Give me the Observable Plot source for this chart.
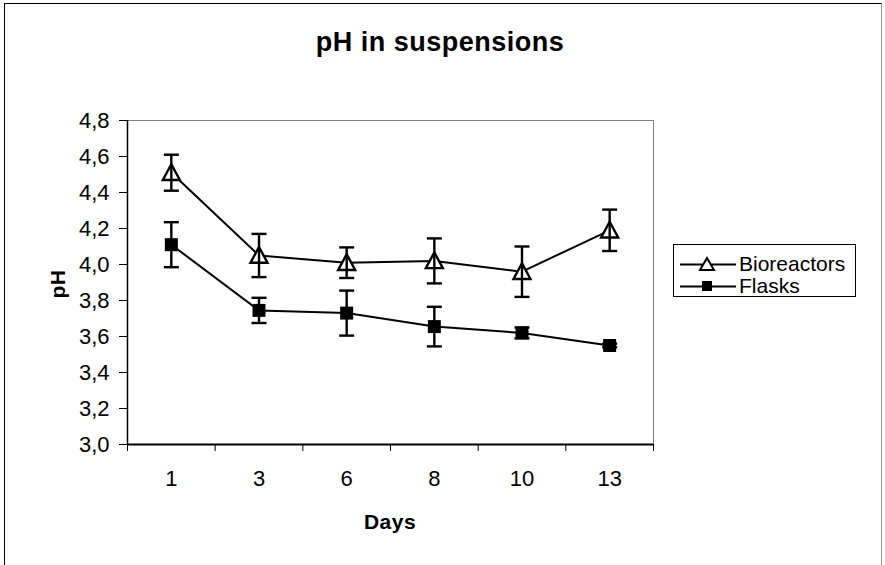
<!DOCTYPE html>
<html>
<head>
<meta charset="utf-8">
<script src="https://cdn.jsdelivr.net/npm/d3@7"></script>
<script src="https://cdn.jsdelivr.net/npm/@observablehq/plot@0.6"></script>
<style>
  html, body { margin: 0; padding: 0; background: #fff; }
  #wrap { position: relative; width: 885px; height: 565px; overflow: hidden; font-family: "Liberation Sans", Arial, sans-serif; color: #000; }
  #border { position: absolute; left: 4px; top: 3px; width: 878px; height: 600px; border: 1px solid #000; border-right-color: #999; box-sizing: border-box; }
  #chart { position: absolute; left: 0; top: 0; }
  .title { position: absolute; left: 440px; top: 42px; transform: translate(-50%, -50%); font-size: 27px; font-weight: bold; letter-spacing: 0.5px; white-space: nowrap; }
  .xlab { position: absolute; left: 390px; top: 522px; transform: translate(-50%, -50%); font-size: 21px; font-weight: bold; letter-spacing: 0.5px; }
  .ylab { position: absolute; left: 58px; top: 284px; transform: translate(-50%, -50%) rotate(-90deg); font-size: 21px; font-weight: bold; letter-spacing: 0.5px; }
  #legend { position: absolute; left: 673px; top: 244px; width: 183px; height: 53px; border: 1px solid #000; box-sizing: border-box; background: #fff; }
  .row { position: absolute; left: 5px; height: 20px; display: flex; align-items: center; font-size: 21px; line-height: 20px; white-space: nowrap; }
  .row svg { margin-right: 2px; }
  .row span { line-height: 20px; display: inline-block; height: 20px; }
</style>
</head>
<body>
<div id="wrap">
  <div id="border"></div>
  <div id="chart"></div>
  <div class="title">pH in suspensions</div>
  <div class="xlab">Days</div>
  <div class="ylab">pH</div>
  <div id="legend"></div>
</div>
<script>
// ---- data ----
const days = ["1", "3", "6", "8", "10", "13"];
const bioreactorsMean = [4.51, 4.05, 4.01, 4.02, 3.96, 4.19];
const bioreactorsErr  = [0.10, 0.12, 0.085, 0.125, 0.14, 0.115];
const flasksMean = [4.11, 3.745, 3.73, 3.655, 3.62, 3.55];
const flasksErr  = [0.125, 0.07, 0.125, 0.11, 0.03, 0.01];
const yTicks = [3.0, 3.2, 3.4, 3.6, 3.8, 4.0, 4.2, 4.4, 4.6, 4.8];
const seriesNames = ["Bioreactors", "Flasks"];

const rows = [];
days.forEach((d, i) => {
  rows.push({series: seriesNames[0], i, day: d, v: bioreactorsMean[i], e: bioreactorsErr[i]});
  rows.push({series: seriesNames[1], i, day: d, v: flasksMean[i], e: flasksErr[i]});
});
const bio = rows.filter(r => r.series === seriesNames[0]);
const fla = rows.filter(r => r.series === seriesNames[1]);
const idx = days.map((d, i) => i);
const bounds = days.map((d, i) => i - 0.5).concat([days.length - 0.5]);

// custom symbols
const capSymbol = { draw(ctx, size) { const r = Math.sqrt(size / Math.PI); ctx.moveTo(-r, 0); ctx.lineTo(r, 0); } };
const triSymbol = { draw(ctx, size) { const r = Math.sqrt(size / Math.PI); ctx.moveTo(0, -r); ctx.lineTo(r, r * 0.85); ctx.lineTo(-r, r * 0.85); ctx.closePath(); } };
const sqSymbol = { draw(ctx, size) { const r = Math.sqrt(size / Math.PI); ctx.rect(-r, -r, 2 * r, 2 * r); } };

const fmt = v => d3.format(".1f")(v).replace(".", ",");

const chart = Plot.plot({
  width: 885,
  height: 565,
  marginLeft: 127,
  marginRight: 232,
  marginTop: 120,
  marginBottom: 121,
  style: { fontFamily: "'Liberation Sans', Arial, sans-serif", background: "transparent", color: "#000" },
  x: { type: "linear", domain: [-0.5, days.length - 0.5], axis: null },
  y: { domain: [3.0, 4.8], axis: null },
  marks: [
    Plot.ruleY([4.8], { stroke: "#808080", strokeWidth: 1 }),
    Plot.ruleX([days.length - 0.5], { stroke: "#808080", strokeWidth: 1 }),
    Plot.axisY({ ticks: yTicks, tickSize: 8, tickPadding: 10, tickFormat: fmt, fontSize: 22, label: null, stroke: "#000", strokeWidth: 1, strokeOpacity: 1 }),
    Plot.axisX({ ticks: bounds, tickSize: 7, tickFormat: () => "", label: null, stroke: "#000", strokeOpacity: 1 }),
    Plot.axisX({ ticks: idx, tickSize: 0, tickPadding: 26, tickFormat: i => days[i], label: null, fontSize: 22 }),
    Plot.ruleX([-0.5], { stroke: "#000", strokeWidth: 1.5 }),
    Plot.ruleY([3.0], { stroke: "#000", strokeWidth: 2 }),
    Plot.line(bio, { x: "i", y: "v", stroke: "#000", strokeWidth: 2 }),
    Plot.line(fla, { x: "i", y: "v", stroke: "#000", strokeWidth: 2 }),
    Plot.dot(bio, { x: "i", y: "v", symbol: triSymbol, r: 8.5, fill: "#fff", stroke: "#000", strokeWidth: 2.4 }),
    Plot.dot(fla, { x: "i", y: "v", symbol: sqSymbol, r: 6.5, fill: "#000", stroke: "none" }),
    Plot.ruleX(rows, { x: "i", y1: r => r.v - r.e, y2: r => r.v + r.e, stroke: "#000", strokeWidth: 2.4 }),
    Plot.dot(rows, { x: "i", y: r => r.v + r.e, symbol: capSymbol, r: 7.5, stroke: "#000", strokeWidth: 2.4, fill: "none" }),
    Plot.dot(rows, { x: "i", y: r => r.v - r.e, symbol: capSymbol, r: 7.5, stroke: "#000", strokeWidth: 2.4, fill: "none" })
  ]
});
document.getElementById("chart").appendChild(chart);

// legend
const legend = document.getElementById("legend");
const legendSyms = {
  Bioreactors: '<polygon points="28,4 35,16 21,16" fill="#fff" stroke="#000" stroke-width="2"/>',
  Flasks: '<rect x="23" y="5" width="10" height="10" fill="#000"/>'
};
seriesNames.forEach((name, k) => {
  const row = document.createElement("div");
  row.className = "row";
  row.style.top = (9 + k * 22) + "px";
  row.innerHTML = `<svg width="58" height="20"><line x1="1" x2="57" y1="10.5" y2="10.5" stroke="#000" stroke-width="2"/>${legendSyms[name]}</svg><span>${name}</span>`;
  legend.appendChild(row);
});
</script>
</body>
</html>
